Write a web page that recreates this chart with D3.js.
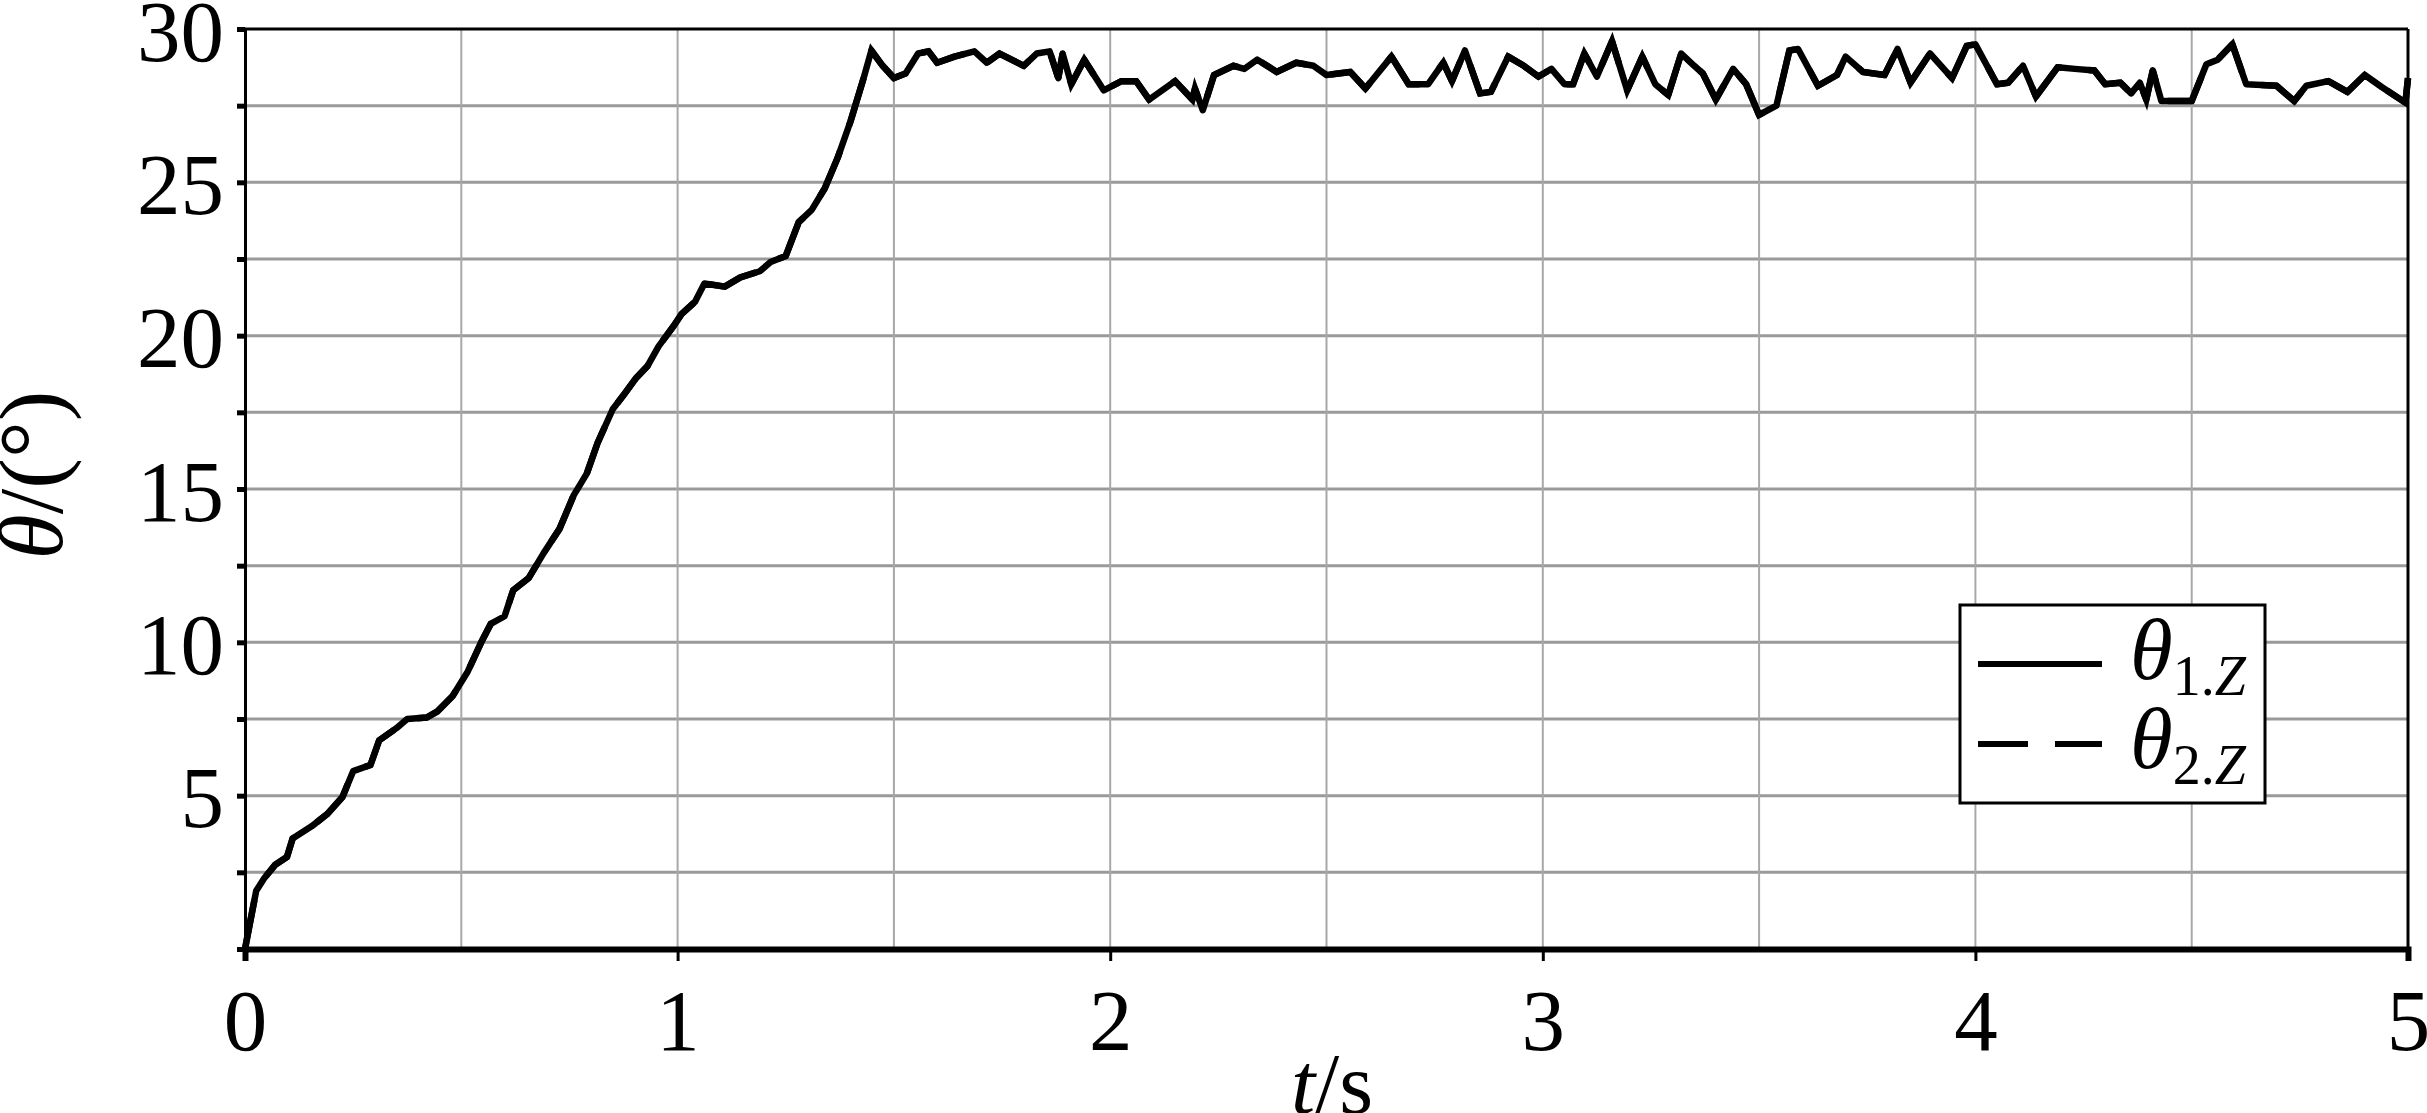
<!DOCTYPE html>
<html>
<head>
<meta charset="utf-8">
<script src="https://cdn.jsdelivr.net/npm/d3@7"></script>
<style>
  html, body { margin: 0; padding: 0; background: #ffffff; }
  svg { display: block; }
  text { font-family: "Liberation Serif", "Times New Roman", "DejaVu Serif", serif; fill: #000; }
</style>
</head>
<body>
<svg id="chart" width="2427" height="1113"></svg>
<script>
// ---- data ----
const timeS = [
  0, 0.013, 0.026, 0.044, 0.07, 0.097, 0.11, 0.154, 0.19, 0.225, 0.25, 0.29, 0.31, 0.35, 0.375,
  0.42, 0.445, 0.48, 0.515, 0.546, 0.568, 0.60, 0.62, 0.656, 0.69, 0.727, 0.76, 0.79, 0.815, 0.85,
  0.877, 0.903, 0.93, 0.956, 0.99, 1.009, 1.04, 1.062, 1.109, 1.145, 1.19, 1.215, 1.25, 1.28, 1.31,
  1.34, 1.37, 1.40, 1.43, 1.448, 1.474, 1.50, 1.527, 1.556, 1.58, 1.60, 1.64, 1.686, 1.715, 1.744,
  1.80, 1.83, 1.86, 1.88, 1.89, 1.91, 1.94, 1.985, 2.026, 2.06, 2.09, 2.15, 2.19, 2.196, 2.214,
  2.24, 2.285, 2.31, 2.34, 2.385, 2.43, 2.47, 2.50, 2.555, 2.59, 2.65, 2.69, 2.735, 2.77, 2.79,
  2.82, 2.855, 2.88, 2.92, 2.956, 2.99, 3.02, 3.05, 3.07, 3.096, 3.125, 3.16, 3.195, 3.23, 3.26,
  3.29, 3.32, 3.35, 3.37, 3.40, 3.44, 3.47, 3.50, 3.54, 3.57, 3.59, 3.636, 3.68, 3.70, 3.74,
  3.79, 3.82, 3.85, 3.895, 3.946, 3.98, 4.0, 4.05, 4.076, 4.11, 4.14, 4.19, 4.23, 4.275, 4.30,
  4.335, 4.36, 4.38, 4.395, 4.41, 4.43, 4.50, 4.534, 4.56, 4.594, 4.626, 4.696, 4.737, 4.765, 4.816,
  4.86, 4.9, 4.94, 4.994, 5.0
];
const theta1Z = [
  0, 0.96, 1.9, 2.3, 2.75, 3.0, 3.6, 4.0, 4.4, 4.95, 5.8, 6.0, 6.8, 7.2, 7.5,
  7.55, 7.75, 8.25, 9.05, 10.0, 10.6, 10.85, 11.7, 12.1, 12.9, 13.7, 14.8, 15.5, 16.5, 17.6,
  18.1, 18.6, 19.0, 19.65, 20.3, 20.7, 21.1, 21.7, 21.6, 21.9, 22.1, 22.4, 22.6, 23.7, 24.1,
  24.8, 25.8, 27.0, 28.4, 29.3, 28.8, 28.4, 28.55, 29.2, 29.27, 28.9, 29.1, 29.27, 28.9, 29.2,
  28.8, 29.2, 29.27, 28.4, 29.2, 28.2, 29.0, 28.0, 28.3, 28.3, 27.7, 28.3, 27.7, 28.06, 27.35,
  28.5, 28.8, 28.7, 29.0, 28.6, 28.9, 28.8, 28.5, 28.6, 28.06, 29.1, 28.2, 28.2, 28.9, 28.3,
  29.3, 27.9, 27.95, 29.1, 28.8, 28.45, 28.7, 28.2, 28.2, 29.2, 28.45, 29.6, 28.0, 29.1, 28.2,
  27.85, 29.2, 28.8, 28.55, 27.7, 28.7, 28.2, 27.2, 27.5, 29.3, 29.35, 28.15, 28.5, 29.1, 28.6,
  28.5, 29.35, 28.25, 29.2, 28.4, 29.45, 29.5, 28.2, 28.25, 28.8, 27.8, 28.75, 28.7, 28.65, 28.2,
  28.25, 27.9, 28.25, 27.7, 28.65, 27.65, 27.65, 28.85, 29.0, 29.5, 28.2, 28.15, 27.65, 28.15, 28.3,
  27.95, 28.5, 28.1, 27.6, 28.4
];
// θ2.Z coincides with θ1.Z in the reference (the dashed curve is hidden beneath the solid one)
const theta2Z = theta1Z.slice();

const xTicks = [0, 1, 2, 3, 4, 5];
const xGrid = [0.5, 1, 1.5, 2, 2.5, 3, 3.5, 4, 4.5];
const yTicks = [0, 2.5, 5, 7.5, 10, 12.5, 15, 17.5, 20, 22.5, 25, 27.5, 30];
const yLabels = [5, 10, 15, 20, 25, 30];
const seriesNames = ["1.Z", "2.Z"];

// ---- layout ----
const svg = d3.select("#chart");
const L = 245, R = 2408, T = 29, B = 949;
const x = d3.scaleLinear().domain([0, 5]).range([L, R]);
const y = d3.scaleLinear().domain([0, 30]).range([B, T]);
const FS = 87;

// grid lines
const grid = svg.append("g");
grid.selectAll("line.h").data(yTicks.filter(v => v > 0 && v < 30)).enter().append("line")
  .attr("x1", L).attr("x2", R).attr("y1", d => y(d)).attr("y2", d => y(d))
  .attr("stroke", "#9a9a9a").attr("stroke-width", 3);
grid.selectAll("line.v").data(xGrid).enter().append("line")
  .attr("x1", d => x(d)).attr("x2", d => x(d)).attr("y1", T).attr("y2", B)
  .attr("stroke", "#a8a8a8").attr("stroke-width", 2);

// frame: top and right
svg.append("line").attr("x1", L).attr("x2", R).attr("y1", T).attr("y2", T)
  .attr("stroke", "#000").attr("stroke-width", 3);
svg.append("line").attr("x1", R).attr("x2", R).attr("y1", T).attr("y2", B)
  .attr("stroke", "#000").attr("stroke-width", 3);

// curves
const line = d3.line().x((d, i) => x(timeS[i])).y(d => y(d));
svg.append("path").datum(theta1Z).attr("d", line)
  .attr("fill", "none").attr("stroke", "#000").attr("stroke-width", 6.5)
  .attr("stroke-linejoin", "round");
svg.append("path").datum(theta2Z).attr("d", line)
  .attr("fill", "none").attr("stroke", "#000").attr("stroke-width", 6.5)
  .attr("stroke-dasharray", "50,27");

// y axis
const yAxis = d3.axisLeft(y).tickValues(yTicks).tickSize(8).tickPadding(13)
  .tickFormat(d => yLabels.includes(d) ? String(d) : "");
const gy = svg.append("g").attr("transform", `translate(${L},0)`).call(yAxis);
gy.select(".domain").attr("stroke", "#000").attr("stroke-width", 3);
gy.selectAll(".tick line").attr("stroke", "#000").attr("stroke-width", 5);
gy.selectAll(".tick text").attr("font-size", FS).attr("dy", "0.36em")
  .style("font-family", '"Liberation Serif", serif');

// x axis
const xAxis = d3.axisBottom(x).tickValues(xTicks).tickSize(12).tickPadding(27)
  .tickFormat(d3.format("d"));
const gx = svg.append("g").attr("transform", `translate(0,${B})`).call(xAxis);
gx.select(".domain").attr("stroke", "#000").attr("stroke-width", 6);
gx.selectAll(".tick line").attr("stroke", "#000").attr("stroke-width", 3);
gx.selectAll(".tick text").attr("font-size", FS)
  .style("font-family", '"Liberation Serif", serif');

// axis titles
const xt = svg.append("text").attr("x", 1332).attr("y", 1113).attr("text-anchor", "middle")
  .attr("font-size", FS);
xt.append("tspan").attr("font-style", "italic").text("t");
xt.append("tspan").text("/s");

const yt = svg.append("text").attr("transform", "translate(62,475) rotate(-90)")
  .attr("text-anchor", "middle").attr("font-size", 92);
yt.append("tspan").attr("font-style", "italic").text("θ");
yt.append("tspan").text("/(°)");

// legend
const lg = svg.append("g");
lg.append("rect").attr("x", 1960).attr("y", 605).attr("width", 305).attr("height", 198)
  .attr("fill", "#fff").attr("stroke", "#000").attr("stroke-width", 3);
const rows = [{dash: null, ly: 664, ty: 679}, {dash: "50,27", ly: 744, ty: 768}];
rows.forEach((r, i) => {
  lg.append("line").attr("x1", 1978).attr("x2", 2102).attr("y1", r.ly).attr("y2", r.ly)
    .attr("stroke", "#000").attr("stroke-width", 6)
    .attr("stroke-dasharray", r.dash);
  const t = lg.append("text").attr("x", 2130).attr("y", r.ty).attr("font-size", FS);
  t.append("tspan").attr("font-style", "italic").text("θ");
  const s = t.append("tspan").attr("font-size", 56).attr("dy", 16);
  s.append("tspan").text(seriesNames[i].split(".")[0] + ".");
  s.append("tspan").attr("font-style", "italic").text(seriesNames[i].split(".")[1]);
});
</script>
</body>
</html>
